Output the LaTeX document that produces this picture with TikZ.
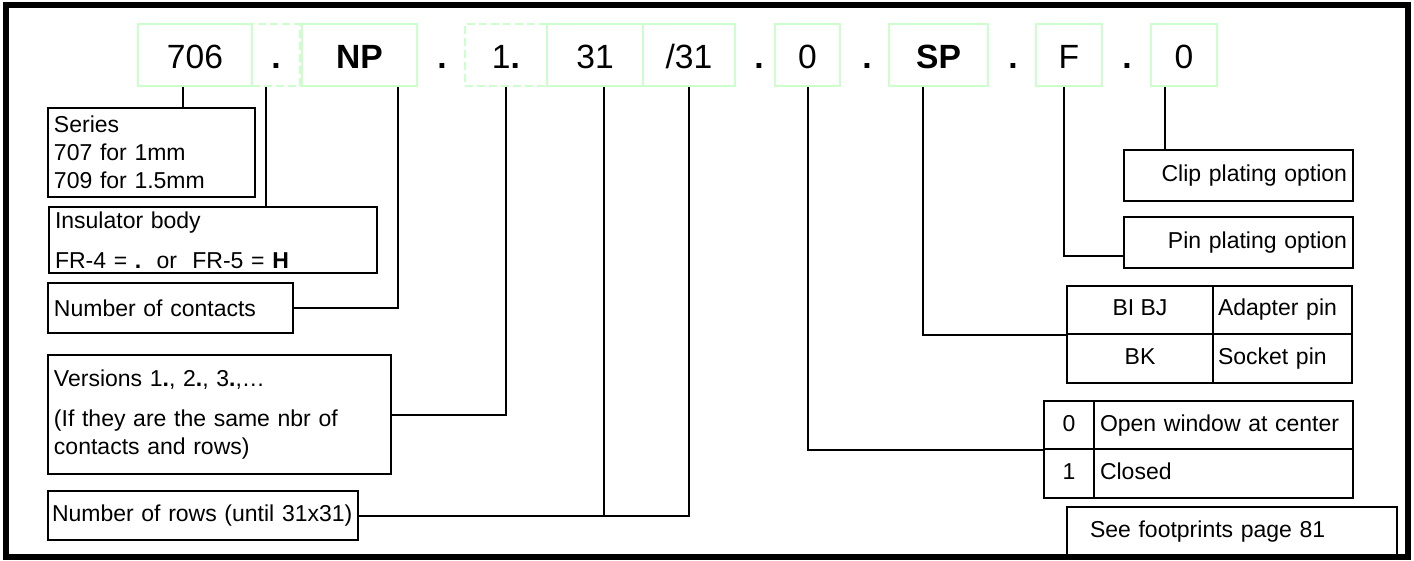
\documentclass[tikz,border=0pt]{standalone}
\usepackage{fontspec}
\setmainfont{Liberation Sans}
\usepackage{xcolor}
\usepackage{tikz}
\usetikzlibrary{positioning}
\definecolor{segGreen}{RGB}{204,255,204}

\begin{document}
\begin{tikzpicture}[
  x=0.5pt,y=-0.5pt,
  seg/.style={draw=segGreen,line width=1.2pt,minimum height=31pt,inner sep=0pt,text height=14pt,text depth=0pt,font=\fontsize{16.8}{20}\selectfont},
  segdash/.style={seg,dash pattern=on 4pt off 2pt},
  sepdot/.style={minimum height=31pt,inner sep=0pt,text height=14pt,text depth=0pt,font=\fontsize{16.8}{20}\selectfont\bfseries},
  lab/.style={draw,line width=1pt,inner ysep=0pt,inner xsep=3pt,align=left,font=\fontsize{11.5}{14}\selectfont},
  cell/.style={draw,line width=1pt,inner ysep=0pt,inner xsep=3pt,text height=8.6pt,text depth=2.6pt,font=\fontsize{11.5}{14}\selectfont},
  link/.style={line width=1pt}
]
\useasboundingbox (0,0) rectangle (1414,561);

\node[segdash,minimum width=24pt] (d1) at (276,55) {\textbf{.}};
\node[segdash,minimum width=41pt] (v1) at (506,55) {1\textbf{.}};
\node[seg,minimum width=57pt] (s706) at (195,55) {706};
\node[seg,minimum width=57.5pt] (np) at (359.5,55) {\bfseries NP};
\node[sepdot] (dA) at (442,55) {.};
\node[seg,minimum width=48pt] (r31) at (595,55) {31};
\node[seg,minimum width=46pt] (r31b) at (689,55) {/31};
\node[sepdot] (dB) at (759,55) {.};
\node[seg,minimum width=32.5pt] (win) at (807.5,55) {0};
\node[sepdot] (dC) at (867,55) {.};
\node[seg,minimum width=49.5pt] (sp) at (938.5,55) {\bfseries SP};
\node[sepdot] (dD) at (1013,55) {.};
\node[seg,minimum width=33pt] (pf) at (1069,55) {F};
\node[sepdot] (dE) at (1127,55) {.};
\node[seg,minimum width=33pt] (clip) at (1184,55) {0};

\node[lab,text width=97.5pt,minimum height=44.5pt] (series) at (151.5,152.5) {Series\\707 for 1mm\\709 for 1.5mm};
\node[lab,text width=158pt,minimum height=33pt] (insul) at (213,240) {Insulator body\\[6pt]FR-4 = \textbf{.}\ \ or\ \ FR-5 = \textbf{H}};
\node[lab,text width=116.5pt,minimum height=25pt] (contacts) at (170.5,308) {Number of contacts};
\node[lab,text width=165.5pt,minimum height=59.5pt] (versions) at (219.5,414.5) {Versions 1\textbf{.}, 2\textbf{.}, 3\textbf{.},…\\[6pt](If they are the same nbr of\\contacts and rows)};
\node[lab,inner xsep=2pt,text width=151pt,minimum height=24.5pt] (rows) at (203,515.5) {Number of rows (until 31x31)};

\node[lab,align=right,text width=108.5pt,minimum height=25.5pt] (clipopt) at (1238.5,175.5) {Clip plating option};
\node[lab,align=right,text width=108.5pt,minimum height=25.5pt] (pinopt) at (1238.5,242.5) {Pin plating option};

\node[cell,minimum width=73pt,minimum height=24pt] (bibj) at (1140,310) {BI BJ};
\node[cell,align=left,inner xsep=2.5pt,text width=64.5pt,minimum height=24pt] (adapt) at (1282.5,310) {Adapter pin};
\node[cell,minimum width=73pt,minimum height=24.5pt] (bk) at (1140,358.5) {BK};
\node[cell,align=left,inner xsep=2.5pt,text width=64.5pt,minimum height=24.5pt] (sock) at (1282.5,358.5) {Socket pin};

\node[cell,minimum width=25pt,minimum height=24pt] (z0) at (1069,425) {0};
\node[cell,align=left,text width=123.5pt,minimum height=24pt] (open) at (1223.5,425) {Open window at center};
\node[cell,minimum width=25pt,minimum height=24.5pt] (z1) at (1069,473.5) {1};
\node[cell,align=left,text width=123.5pt,minimum height=24.5pt] (closed) at (1223.5,473.5) {Closed};

\node[lab,inner xsep=11.5pt,text width=142pt,minimum height=25pt] (foot) at (1232,532) {See footprints page 81};

\coordinate (k706) at ([xshift=-6pt]s706.south);
\coordinate (kdot) at ([xshift=-5pt]d1.south);
\coordinate (knp) at ([xshift=19pt]np.south);
\coordinate (k31) at ([xshift=4.5pt]r31.south);
\coordinate (ksp) at ([xshift=-8pt]sp.south);
\coordinate (kf) at ([xshift=-2.5pt]pf.south);
\coordinate (kpin) at ([yshift=-7pt]pinopt.west);
\coordinate (kclip) at ([xshift=-9.5pt]clip.south);

\draw[link] (k706) -- (k706 |- series.north);
\draw[link] (kdot) -- (kdot |- insul.north);
\draw[link] (knp) |- (contacts.east);
\draw[link] (v1.south) |- (versions.east);
\draw[link] (k31) |- (rows.east);
\draw[link] (r31b.south) |- (rows.east);
\draw[link] (win.south) |- (z0.south west);
\draw[link] (ksp) |- (bibj.south west);
\draw[link] (kf) |- (kpin);
\draw[link] (kclip) -- (kclip |- clipopt.north);

\draw[line width=3pt] (6,5.5) rectangle (1408,557);
\end{tikzpicture}
\end{document}
